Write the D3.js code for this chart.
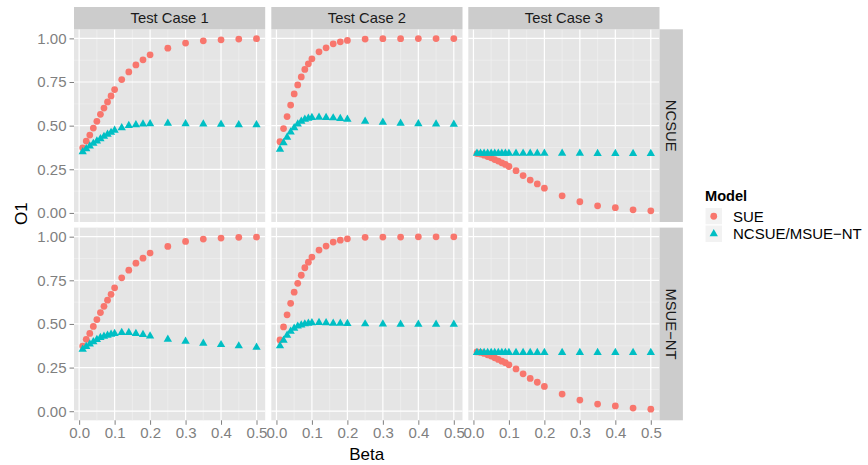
<!DOCTYPE html>
<html>
<head>
<meta charset="utf-8">
<script src="https://cdn.jsdelivr.net/npm/d3@7"></script>
<style>
  body { margin: 0; background: #fff; }
  svg { font-family: "Liberation Sans", Arial, sans-serif; }
</style>
</head>
<body>
<div id="chart"></div>
<script>
// data
var beta = [0.01, 0.02, 0.03, 0.04, 0.05, 0.06, 0.07, 0.08, 0.09, 0.10,
            0.12, 0.14, 0.16, 0.18, 0.20, 0.25, 0.30, 0.35, 0.40, 0.45, 0.50];
var testCases = ["Test Case 1", "Test Case 2", "Test Case 3"];
var rowsLab = ["NCSUE", "MSUE\u2212NT"];
var models = ["SUE", "NCSUE/MSUE\u2212NT"];

// SUE is the same in both rows
var sueTC1 = [0.373, 0.412, 0.446, 0.486, 0.525, 0.565, 0.601, 0.636, 0.670, 0.707,
              0.764, 0.808, 0.848, 0.877, 0.906, 0.944, 0.973, 0.986, 0.992, 0.996, 0.998];
var sueTC2 = [0.408, 0.483, 0.552, 0.618, 0.682, 0.733, 0.779, 0.822, 0.854, 0.883,
              0.923, 0.946, 0.969, 0.980, 0.988, 0.996, 0.998, 0.998, 0.999, 0.999, 0.999];
var sueTC3 = [0.340, 0.337, 0.331, 0.323, 0.316, 0.306, 0.297, 0.287, 0.278, 0.266,
              0.242, 0.214, 0.188, 0.166, 0.142, 0.098, 0.064, 0.041, 0.030, 0.018, 0.012];

// NCSUE row
var ncsueTC1 = [0.350, 0.367, 0.383, 0.398, 0.412, 0.425, 0.438, 0.450, 0.461, 0.473,
                0.488, 0.500, 0.505, 0.509, 0.511, 0.513, 0.511, 0.509, 0.507, 0.505, 0.505];
var ncsueTC2 = [0.364, 0.402, 0.433, 0.463, 0.488, 0.509, 0.525, 0.536, 0.542, 0.546,
                0.548, 0.546, 0.544, 0.540, 0.536, 0.525, 0.519, 0.513, 0.511, 0.509, 0.507];
var ncsueTC3 = [0.341, 0.341, 0.341, 0.341, 0.341, 0.341, 0.341, 0.341, 0.341, 0.341,
                0.341, 0.341, 0.341, 0.341, 0.341, 0.341, 0.341, 0.340, 0.340, 0.340, 0.340];

// MSUE-NT row
var msueTC1 = [0.355, 0.370, 0.385, 0.398, 0.410, 0.422, 0.429, 0.435, 0.441, 0.445,
               0.450, 0.450, 0.445, 0.439, 0.431, 0.412, 0.400, 0.389, 0.381, 0.374, 0.366];
var msueTC2 = [0.374, 0.406, 0.435, 0.458, 0.475, 0.487, 0.494, 0.500, 0.504, 0.506,
               0.508, 0.506, 0.504, 0.503, 0.502, 0.500, 0.499, 0.498, 0.498, 0.498, 0.498];
var msueTC3 = [0.336, 0.336, 0.336, 0.336, 0.336, 0.336, 0.336, 0.336, 0.336, 0.336,
               0.336, 0.336, 0.336, 0.336, 0.336, 0.336, 0.336, 0.336, 0.336, 0.336, 0.336];

var xTicks = [0, 0.1, 0.2, 0.3, 0.4, 0.5];
var xMinor = [0.05, 0.15, 0.25, 0.35, 0.45];
var yTicks = [0, 0.25, 0.5, 0.75, 1];
var yMinor = [0.125, 0.375, 0.625, 0.875];

var sue = [sueTC1, sueTC2, sueTC3];
var other = [[ncsueTC1, ncsueTC2, ncsueTC3], [msueTC1, msueTC2, msueTC3]];

var colors = ["#F8766D", "#00BFC4"];

var W = 868, H = 465;
var panelX = [74, 271.3, 468.3], panelW = 191.2;
var panelY = [29.3, 227.6], panelH = 192.7;
var stripH = 22.3, stripW = 23.4;

var svg = d3.select("#chart").append("svg")
  .attr("width", W)
  .attr("height", H);

// ggplot style 5% expansion
var bx = d3.extent(beta);
var ex = (bx[1] - bx[0]) * 0.05;
var x = d3.scaleLinear().domain([bx[0] - ex, bx[1] + ex]).range([0, panelW]);
var y = d3.scaleLinear().domain([-0.052, 1.052]).range([panelH, 0]);

var circle = d3.symbol().type(d3.symbolCircle).size(36);
var tri = d3.symbol().type(d3.symbolTriangle).size(30);

rowsLab.forEach(function(rl, r) {
  testCases.forEach(function(tc, c) {
    var g = svg.append("g")
      .attr("transform", "translate(" + panelX[c] + "," + panelY[r] + ")");
    g.append("rect")
      .attr("width", panelW)
      .attr("height", panelH)
      .attr("fill", "#E5E5E5");
    // minor grid
    g.selectAll("line.xmin").data(xMinor).enter().append("line")
      .attr("x1", d => x(d)).attr("x2", d => x(d))
      .attr("y1", 0).attr("y2", panelH)
      .attr("stroke", "#F2F2F2").attr("stroke-width", 0.6);
    g.selectAll("line.ymin").data(yMinor).enter().append("line")
      .attr("y1", d => y(d)).attr("y2", d => y(d))
      .attr("x1", 0).attr("x2", panelW)
      .attr("stroke", "#F2F2F2").attr("stroke-width", 0.6);
    // major grid
    g.selectAll("line.xmaj").data(xTicks).enter().append("line")
      .attr("x1", d => x(d)).attr("x2", d => x(d))
      .attr("y1", 0).attr("y2", panelH)
      .attr("stroke", "#fff").attr("stroke-width", 1.2);
    g.selectAll("line.ymaj").data(yTicks).enter().append("line")
      .attr("y1", d => y(d)).attr("y2", d => y(d))
      .attr("x1", 0).attr("x2", panelW)
      .attr("stroke", "#fff").attr("stroke-width", 1.2);

    // points
    g.selectAll("path.sue").data(beta).enter().append("path")
      .attr("d", circle)
      .attr("transform", (d, i) => "translate(" + x(d) + "," + y(sue[c][i]) + ")")
      .attr("fill", colors[0]);
    g.selectAll("path.oth").data(beta).enter().append("path")
      .attr("d", tri)
      .attr("transform", (d, i) => "translate(" + x(d) + "," + y(other[r][c][i]) + ")")
      .attr("fill", colors[1]);

    // top strips
    if (r === 0) {
      svg.append("rect")
        .attr("x", panelX[c]).attr("y", panelY[0] - stripH)
        .attr("width", panelW).attr("height", stripH)
        .attr("fill", "#CCCCCC");
      svg.append("text")
        .attr("x", panelX[c] + panelW / 2)
        .attr("y", panelY[0] - stripH / 2)
        .attr("dy", "0.36em")
        .attr("text-anchor", "middle")
        .attr("font-size", 14.8)
        .attr("fill", "#1A1A1A")
        .text(tc);
    }
    // x axis on bottom row
    if (r === 1) {
      var xa = svg.append("g")
        .attr("transform", "translate(" + panelX[c] + "," + (panelY[1] + panelH) + ")")
        .call(d3.axisBottom(x).tickValues(xTicks).tickFormat(d3.format(".1f"))
          .tickSize(4.5).tickPadding(3));
      xa.select(".domain").remove();
      xa.selectAll("line").attr("stroke", "#7F7F7F");
      xa.selectAll("text").attr("fill", "#7F7F7F").attr("font-size", 15)
        .attr("font-family", "Liberation Sans, Arial, sans-serif");
    }
  });

  // y axis
  var ya = svg.append("g")
    .attr("transform", "translate(" + panelX[0] + "," + panelY[r] + ")")
    .call(d3.axisLeft(y).tickValues(yTicks).tickFormat(d3.format(".2f"))
      .tickSize(4.5).tickPadding(3));
  ya.select(".domain").remove();
  ya.selectAll("line").attr("stroke", "#7F7F7F");
  ya.selectAll("text").attr("fill", "#7F7F7F").attr("font-size", 15)
    .attr("font-family", "Liberation Sans, Arial, sans-serif");

  // right strip
  var sx = panelX[2] + panelW;
  svg.append("rect")
    .attr("x", sx).attr("y", panelY[r])
    .attr("width", stripW).attr("height", panelH)
    .attr("fill", "#CCCCCC");
  svg.append("text")
    .attr("transform", "translate(" + (sx + stripW / 2) + "," + (panelY[r] + panelH / 2) + ") rotate(90)")
    .attr("dy", "0.36em")
    .attr("text-anchor", "middle")
    .attr("font-size", 14.8)
    .attr("fill", "#1A1A1A")
    .text(rl);
});

// axis titles
svg.append("text")
  .attr("x", (panelX[0] + panelX[2] + panelW) / 2)
  .attr("y", 460)
  .attr("text-anchor", "middle")
  .attr("font-size", 17)
  .text("Beta");
svg.append("text")
  .attr("transform", "translate(27," + ((panelY[0] - stripH + panelY[1] + panelH) / 2) + ") rotate(-90)")
  .attr("text-anchor", "middle")
  .attr("font-size", 17)
  .text("O1");

// legend
var legend = svg.append("g")
  .attr("transform", "translate(705,0)");
legend.append("text")
  .attr("x", 0).attr("y", 201)
  .attr("font-size", 14.6)
  .attr("font-weight", "bold")
  .text("Model");
var keyH = 17.5, keyTop = 207.5;
models.forEach(function(m, i) {
  var ky = keyTop + i * keyH;
  legend.append("rect")
    .attr("x", 0).attr("y", ky)
    .attr("width", 17.5).attr("height", keyH)
    .attr("fill", "#F2F2F2")
    .attr("stroke", "#fff").attr("stroke-width", 1);
  legend.append("path")
    .attr("d", i === 0 ? circle : tri)
    .attr("transform", "translate(8.75," + (ky + keyH / 2) + ")")
    .attr("fill", colors[i]);
  legend.append("text")
    .attr("x", 28).attr("y", ky + keyH / 2)
    .attr("dy", "0.36em")
    .attr("font-size", 15)
    .text(m);
});
</script>
</body>
</html>
